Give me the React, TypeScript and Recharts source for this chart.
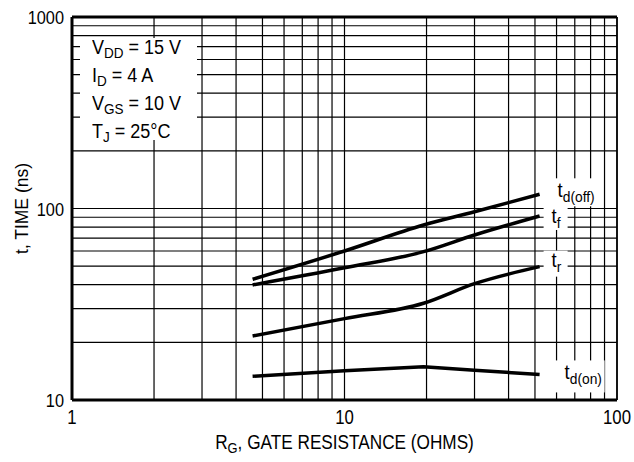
import { LineChart, Line, XAxis, YAxis, CartesianGrid, ReferenceLine, LabelList, Label } from 'recharts'

const FONT = "'Liberation Sans', Arial, sans-serif"
// the original lettering is a condensed face; squeeze Liberation Sans to match
const SQUEEZE = 0.86

// gate resistance (ohms)
const rg = [4.6, 10, 19.5, 30, 52]
// switching times (ns)
const tdOff = [42.7, 60.0, 82.0, 96.2, 118.6]
const tf = [39.9, 49.0, 59.5, 72.7, 91.4]
const tr = [21.6, 26.6, 32.0, 40.5, 49.7]
const tdOn = [13.3, 14.2, 14.9, 14.3, 13.6]

const xTicks = [1, 2, 3, 4, 5, 6, 7, 8, 9, 10, 20, 30, 40, 50, 60, 70, 80, 90, 100]
const yTicks = [10, 20, 30, 40, 50, 60, 70, 80, 90, 100, 200, 300, 400, 500, 600, 700, 800, 900, 1000]
const xLabels = [1, 10, 100]
const yLabels = [10, 100, 1000]

const conditions = [
  { main: 'V', sub: 'DD', rest: ' = 15 V' },
  { main: 'I', sub: 'D', rest: ' = 4 A' },
  { main: 'V', sub: 'GS', rest: ' = 10 V' },
  { main: 'T', sub: 'J', rest: ' = 25°C' },
]

const data = rg.map((x, i) => ({ rg: x, tdOff: tdOff[i], tf: tf[i], tr: tr[i], tdOn: tdOn[i] }))

type Box = { x: number; y: number; w: number; h: number }

function curveLabel(sub: string, dx: number, dy: number, bg: Box) {
  return (props: any) => {
    if (props.index !== data.length - 1) return null
    const x = Number(props.x)
    const y = Number(props.y)
    return (
      <g>
        <rect x={x + bg.x} y={y + bg.y} width={bg.w} height={bg.h} fill="#fff" />
        <g transform={`translate(${x + dx} ${y + dy}) scale(0.92 1)`}>
          <text x={0} y={0} fontSize={20} fontFamily={FONT} fill="#000">
            t
            <tspan fontSize={15} dy={5}>
              {sub}
            </tspan>
          </text>
        </g>
      </g>
    )
  }
}

function XTick(props: any) {
  const v = props.payload.value
  if (!xLabels.includes(v)) return null
  return (
    <g transform={`translate(${props.x} ${props.y + 16}) scale(${SQUEEZE} 1)`}>
      <text x={0} y={0} textAnchor="middle" fontSize={19.5} fontFamily={FONT} fill="#000">
        {v}
      </text>
    </g>
  )
}

function YTick(props: any) {
  const v = props.payload.value
  if (!yLabels.includes(v)) return null
  return (
    <g transform={`translate(${props.x} ${props.y + 7}) scale(${SQUEEZE} 1)`}>
      <text x={0} y={0} textAnchor="end" fontSize={19} fontFamily={FONT} fill="#000">
        {v}
      </text>
    </g>
  )
}

function YTitle(props: any) {
  const vb = props.viewBox || {}
  const cx = 21
  const cy = vb.y + vb.height / 2
  return (
    <g transform={`translate(${cx} ${cy}) rotate(-90) scale(0.92 1)`}>
      <text x={0} y={0} textAnchor="middle" dominantBaseline="central" fontSize={19} fontFamily={FONT} fill="#000">
        t, TIME (ns)
      </text>
    </g>
  )
}

function XTitle(props: any) {
  const vb = props.viewBox || {}
  const cx = vb.x + vb.width / 2
  return (
    <g transform={`translate(${cx} 449) scale(${SQUEEZE} 1)`}>
      <text x={0} y={0} textAnchor="middle" fontSize={20} fontFamily={FONT} fill="#000">
        R
        <tspan fontSize={15} dy={4}>
          G
        </tspan>
        <tspan dy={-4}>, GATE RESISTANCE (OHMS)</tspan>
      </text>
    </g>
  )
}

export default function App() {
  return (
    <div style={{ position: 'absolute', left: 0, top: 0, width: 634, height: 462, background: '#fff' }}>
      <LineChart width={634} height={462} data={data} margin={{ top: 17, right: 17, left: 0, bottom: 32 }}>
        <CartesianGrid stroke="#000" strokeWidth={1.2} />
        <XAxis
          dataKey="rg"
          type="number"
          scale="log"
          domain={[1, 100]}
          ticks={xTicks}
          tick={<XTick />}
          tickLine={false}
          axisLine={{ stroke: '#000', strokeWidth: 3 }}
          height={30}
          interval={0}
          allowDataOverflow
        >
          <Label content={<XTitle />} />
        </XAxis>
        <YAxis
          type="number"
          scale="log"
          domain={[10, 1000]}
          ticks={yTicks}
          tick={<YTick />}
          tickLine={false}
          axisLine={{ stroke: '#000', strokeWidth: 3 }}
          width={72}
          interval={0}
          allowDataOverflow
        >
          <Label content={<YTitle />} />
        </YAxis>
        <ReferenceLine y={1000} stroke="#000" strokeWidth={3} />
        <ReferenceLine x={100} stroke="#000" strokeWidth={1.6} />
        <Line type="monotone" dataKey="tdOff" stroke="#000" strokeWidth={3.5} dot={false} isAnimationActive={false}>
          <LabelList dataKey="tdOff" content={curveLabel('d(off)', 18, 3, { x: 8, y: -16, w: 54, h: 28 })} />
        </Line>
        <Line type="monotone" dataKey="tf" stroke="#000" strokeWidth={3.5} dot={false} isAnimationActive={false}>
          <LabelList dataKey="tf" content={curveLabel('f', 12, 7, { x: 4, y: -10, w: 24, h: 24 })} />
        </Line>
        <Line type="monotone" dataKey="tr" stroke="#000" strokeWidth={3.5} dot={false} isAnimationActive={false}>
          <LabelList dataKey="tr" content={curveLabel('r', 12, 0, { x: 4, y: -16, w: 24, h: 26 })} />
        </Line>
        <Line type="linear" dataKey="tdOn" stroke="#000" strokeWidth={3.5} dot={false} isAnimationActive={false}>
          <LabelList dataKey="tdOn" content={curveLabel('d(on)', 25, 5, { x: 10, y: -14, w: 55, h: 32 })} />
        </Line>
      </LineChart>
      <div
        style={{
          position: 'absolute',
          left: 80,
          top: 38,
          width: 117,
          height: 102,
          background: '#fff',
          fontFamily: FONT,
          fontSize: 20,
          lineHeight: '26px',
          paddingLeft: 12,
          boxSizing: 'border-box',
          color: '#000',
        }}
      >
        <div style={{ marginTop: -4, transform: 'scaleX(0.9)', transformOrigin: 'left top' }}>
          {conditions.map((c) => (
            <div key={c.main + c.sub} style={{ whiteSpace: 'nowrap' }}>
              {c.main}
              <span style={{ fontSize: 15, position: 'relative', top: 4 }}>{c.sub}</span>
              {c.rest}
            </div>
          ))}
        </div>
      </div>
    </div>
  )
}
